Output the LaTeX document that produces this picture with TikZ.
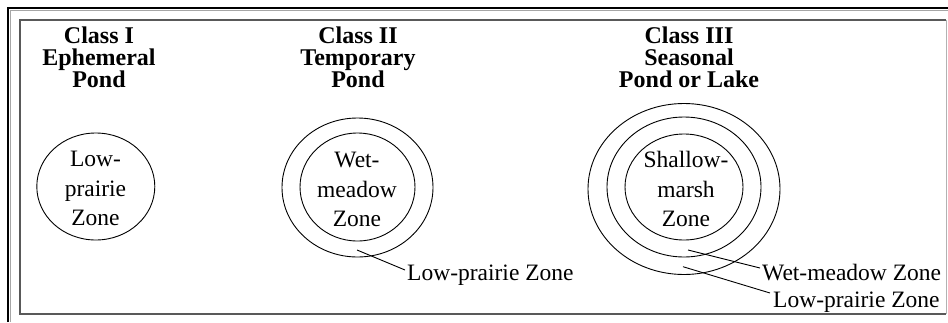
\documentclass[tikz,border=0pt]{standalone}
\usepackage{fontspec}
\setmainfont{Liberation Serif}
\begin{document}
\begin{tikzpicture}[x=1pt,y=-1pt,
  title/.style={font=\bfseries\fontsize{24}{22}\selectfont, anchor=base, inner sep=0pt},
  zone/.style={font=\fontsize{23.5}{29}\selectfont, anchor=base, inner sep=0pt},
  label/.style={font=\fontsize{23.5}{29}\selectfont, anchor=base west, inner sep=0pt},
  ring/.style={line width=0.9pt},
  leader/.style={line width=0.9pt}]
\useasboundingbox (0,0) rectangle (948,322);
\fill[white] (0,0) rectangle (948,322);
% outer frame
\draw[line width=2pt] (7.7,322) -- (7.7,7.7) -- (948,7.7);
\draw[black!35, line width=1pt] (10,322) -- (10,10) -- (948,10);
% inner frame
\draw[black!65, line width=2pt] (946,314) -- (20,314) -- (20,20) -- (946,20);
\draw[black!30, line width=1pt] (946,20) -- (946,314);
% titles
\node[title] (t1a) at (99,43) {Class I};
\node[title] (t1b) at (99,65) {Ephemeral};
\node[title] (t1c) at (99,87) {Pond};
\node[title] (t2a) at (358,43) {Class II};
\node[title] (t2b) at (358,65) {Temporary};
\node[title] (t2c) at (358,87) {Pond};
\node[title] (t3a) at (689,43) {Class III};
\node[title] (t3b) at (689,65) {Seasonal};
\node[title] (t3c) at (689,87) {Pond or Lake};
% rings
\draw[ring] (95.8,186.5) ellipse [x radius=59pt, y radius=53.5pt];
\draw[ring] (357.5,187.5) ellipse [x radius=75.5pt, y radius=69.5pt];
\draw[ring] (357.5,187) ellipse [x radius=57.5pt, y radius=54pt];
\draw[ring] (684,189) ellipse [x radius=96pt, y radius=85.5pt];
\draw[ring] (684,187) ellipse [x radius=77pt, y radius=70pt];
\draw[ring] (684,187) ellipse [x radius=59pt, y radius=53pt];
% zone texts
\node[zone] (z1a) at (95.5,166) {Low-};
\node[zone] (z1b) at (95.5,196) {prairie};
\node[zone] (z1c) at (95.5,225) {Zone};
\node[zone] (z2a) at (357,167) {Wet-};
\node[zone] (z2b) at (357,197) {meadow};
\node[zone] (z2c) at (357,226) {Zone};
\node[zone] (z3a) at (686,167) {Shallow-};
\node[zone] (z3b) at (686,197) {marsh};
\node[zone] (z3c) at (686,226) {Zone};
% labels and leaders
\node[label] (l2) at (407,280) {Low-prairie Zone};
\node[label] (l3w) at (762,280) {Wet-meadow Zone};
\node[label] (l3l) at (773,307) {Low-prairie Zone};
\coordinate (s2) at (357,250);
\coordinate (s3w) at (688,250);
\coordinate (s3l) at (683,266.7);
\draw[leader] (s2) -- ([shift={(-2,-10)}]l2.base west);
\draw[leader] (s3w) -- ([shift={(-2,-12)}]l3w.base west);
\draw[leader] (s3l) -- ([shift={(-3,-14)}]l3l.base west);
\end{tikzpicture}
\end{document}
